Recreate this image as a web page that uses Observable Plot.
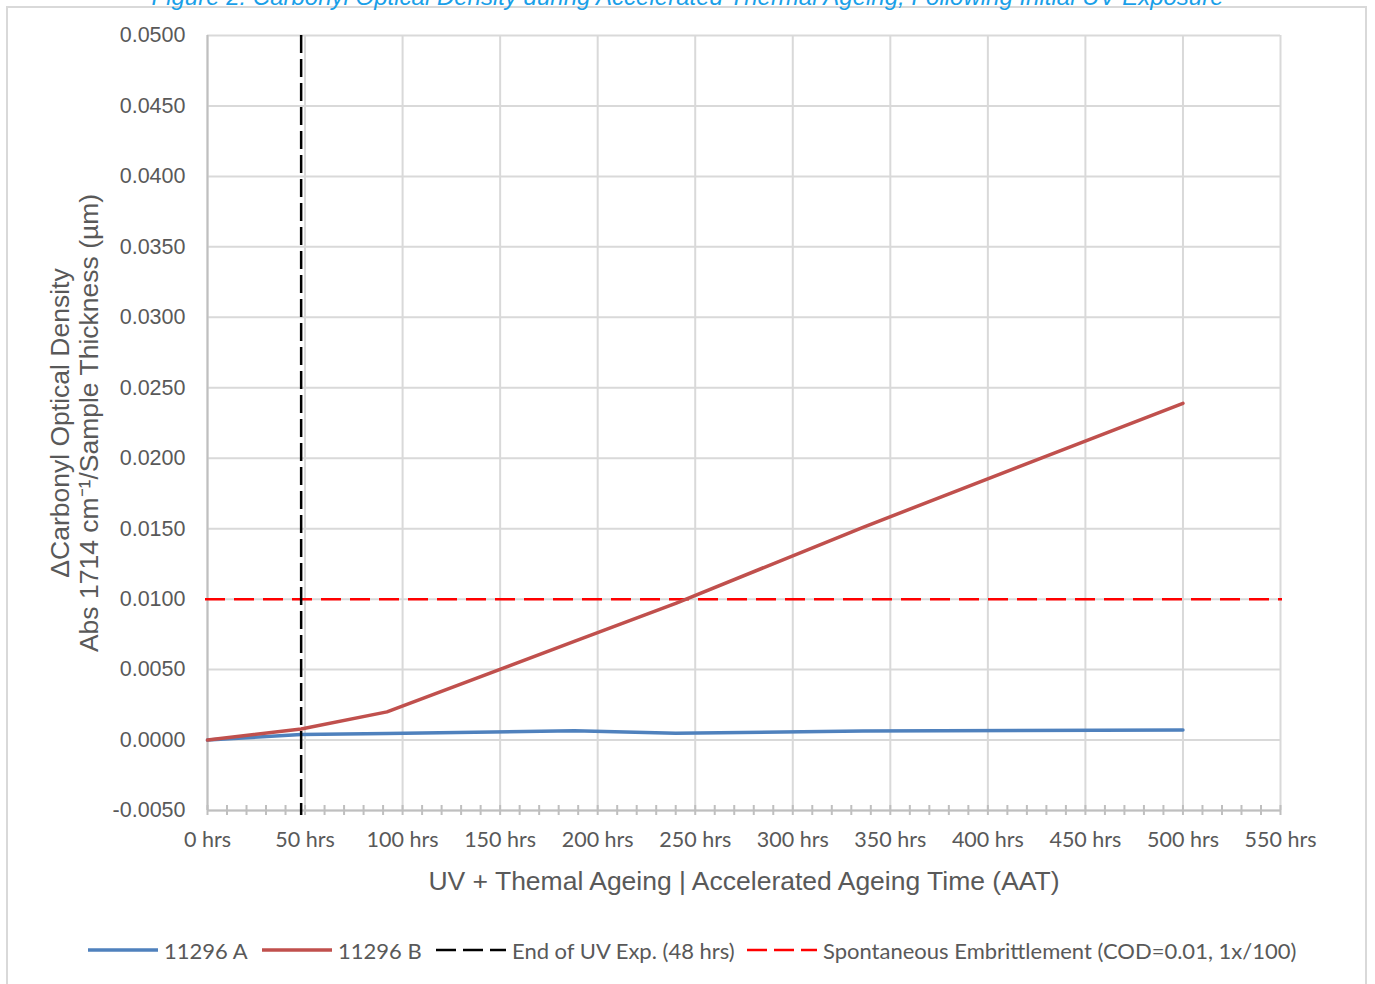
<!DOCTYPE html>
<html>
<head>
<meta charset="utf-8">
<script src="https://cdn.jsdelivr.net/npm/d3@7"></script>
<script src="https://cdn.jsdelivr.net/npm/@observablehq/plot@0.6"></script>
<style>
  html, body { margin: 0; padding: 0; background: #fff; overflow: hidden; }
  #wrap { position: relative; width: 1375px; height: 984px; overflow: hidden; }
  #frame { position: absolute; left: 6px; top: 6px; width: 1361px; height: 990px; border: 2px solid #d9d9d9; box-sizing: border-box; }
  #title { position: absolute; left: 0; width: 1375px; top: -17px; text-align: center; font-family: "Liberation Sans", Arial, sans-serif; font-style: italic; font-size: 24px; color: #1a9fe8; white-space: nowrap; }
  #chart { position: absolute; left: 0; top: 0; }
  .leg { position: absolute; top: 938px; height: 24px; display: flex; align-items: center; font-family: Lato, "Open Sans", sans-serif; font-size: 22px; color: #595959; white-space: nowrap; }
  .leg svg { margin-right: 6px; }
</style>
</head>
<body>
<div id="wrap">
  <div id="frame"></div>
  <div id="title">Figure 2: Carbonyl Optical Density during Accelerated Thermal Ageing, Following Initial UV Exposure</div>
  <div id="chart"></div>
  <div id="legend"></div>
</div>
<script>
// ---- data ----
const hours = [0, 48, 92, 188, 240, 336, 500];
const sampleA = [0, 0.0004, 0.00047, 0.00066, 0.00048, 0.00064, 0.00071];
const sampleB = [0, 0.00078, 0.0020, 0.0070, 0.0097, 0.0151, 0.0239];
const seriesNames = ["11296 A", "11296 B", "End of UV Exp. (48 hrs)", "Spontaneous Embrittlement (COD=0.01, 1x/100)"];
const uvEnd = [48];
const embrittlement = [0.01];
const xTicks = [0, 50, 100, 150, 200, 250, 300, 350, 400, 450, 500, 550];
const xMinorTicks = d3.range(0, 551, 10);
const yTicks = [-0.005, 0, 0.005, 0.01, 0.015, 0.02, 0.025, 0.03, 0.035, 0.04, 0.045, 0.05];

const colors = {A: "#4f81bd", B: "#c0504d", uv: "#000000", emb: "#ff0000", grid: "#d9d9d9", axis: "#bfbfbf", text: "#595959"};

const rows = [];
hours.forEach((h, i) => rows.push({series: seriesNames[0], t: h, v: sampleA[i]}));
hours.forEach((h, i) => rows.push({series: seriesNames[1], t: h, v: sampleB[i]}));

const plot = Plot.plot({
  width: 1375,
  height: 915,
  marginLeft: 207,
  marginRight: 95,
  marginTop: 35,
  marginBottom: 105,
  style: {background: "transparent", fontFamily: "Liberation Sans, Arial, sans-serif", color: colors.text},
  x: {domain: [0, 550]},
  y: {domain: [-0.005, 0.05]},
  marks: [
    Plot.gridX(xTicks, {stroke: colors.grid, strokeOpacity: 1, strokeWidth: 2}),
    Plot.gridY(yTicks, {stroke: colors.grid, strokeOpacity: 1, strokeWidth: 2}),
    Plot.ruleY([-0.005], {stroke: colors.axis, strokeWidth: 2}),
    Plot.ruleX([0], {stroke: colors.axis, strokeWidth: 2}),
    Plot.ruleX(xMinorTicks, {x: d => d, y1: -0.005, y2: -0.005, insetTop: -5, insetBottom: -5, stroke: colors.axis, strokeWidth: 2}),
    Plot.axisX(xTicks, {tickSize: 0, tickPadding: 21, tickFormat: d => `${d} hrs`, fontSize: 21.5, fontFamily: "Lato, Open Sans, sans-serif", fill: colors.text, label: null}),
    Plot.axisY(yTicks, {tickSize: 0, tickPadding: 22, tickFormat: d => d.toFixed(4), fontSize: 21.5, fill: colors.text, label: null}),
    Plot.ruleY(embrittlement, {stroke: colors.emb, strokeWidth: 2.5, strokeDasharray: "20,9", insetLeft: -2, insetRight: -2}),
    Plot.line(rows, {x: "t", y: "v", z: "series", stroke: d => d.series === seriesNames[0] ? colors.A : colors.B, strokeWidth: 3.5, curve: "linear"}),
    Plot.ruleX(uvEnd, {stroke: colors.uv, strokeWidth: 2.5, strokeDasharray: "18,6", insetBottom: -5}),
    Plot.text(["ΔCarbonyl Optical Density"], {frameAnchor: "left", dx: -147, rotate: -90, fontSize: 26.5, fill: colors.text, textAnchor: "middle", lineAnchor: "middle"}),
    Plot.text(["Abs 1714 cm⁻¹/Sample Thickness (µm)"], {frameAnchor: "left", dx: -118, rotate: -90, fontSize: 26.5, fill: colors.text, textAnchor: "middle", lineAnchor: "middle"}),
    Plot.text(["UV + Themal Ageing | Accelerated Ageing Time (AAT)"], {frameAnchor: "bottom", dy: 71, fontSize: 26.5, fill: colors.text, lineAnchor: "middle"})
  ]
});
document.getElementById("chart").appendChild(plot);

// ---- legend ----
const legendItems = [
  {name: seriesNames[0], color: colors.A, dash: null, left: 88},
  {name: seriesNames[1], color: colors.B, dash: null, left: 262},
  {name: seriesNames[2], color: colors.uv, dash: "20,7", left: 436},
  {name: seriesNames[3], color: colors.emb, dash: "20,7", left: 747}
];
const legend = document.getElementById("legend");
for (const it of legendItems) {
  const div = document.createElement("div");
  div.className = "leg";
  div.style.left = it.left + "px";
  div.innerHTML = `<svg width="70" height="10"><line x1="0" x2="70" y1="5" y2="5" stroke="${it.color}" stroke-width="${it.dash ? 2.5 : 3.5}" ${it.dash ? `stroke-dasharray="${it.dash}"` : ""}/></svg><span>${it.name}</span>`;
  legend.appendChild(div);
}
</script>
</body>
</html>
